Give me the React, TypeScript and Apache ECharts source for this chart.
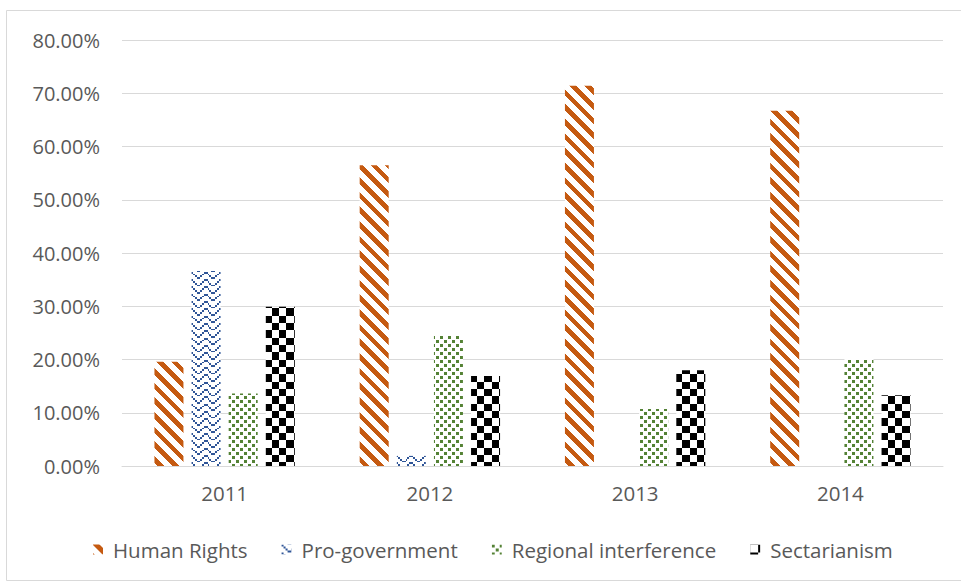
import React, { useEffect, useRef } from "react";
import * as echarts from "echarts";

const categories = ["2011", "2012", "2013", "2014"];
const seriesNames = ["Human Rights", "Pro-government", "Regional interference", "Sectarianism"];
const humanRights = [19.6, 56.5, 71.4, 66.7];
const proGovernment = [36.6, 1.9, 0, 0];
const regionalInterference = [13.6, 24.6, 10.7, 20.1];
const sectarianism = [29.9, 16.9, 18.0, 13.3];
const yTicks = { min: 0, max: 80, interval: 10 };

function hexToRgb(hex: string) {
  const h = hex.replace("#", "");
  return [parseInt(h.slice(0, 2), 16), parseInt(h.slice(2, 4), 16), parseInt(h.slice(4, 6), 16)];
}

function makeTile(size: number, color: string, fn: (x: number, y: number) => boolean) {
  const c = document.createElement("canvas");
  c.width = size;
  c.height = size;
  const ctx = c.getContext("2d")!;
  const img = ctx.createImageData(size, size);
  const [r, g, b] = hexToRgb(color);
  for (let y = 0; y < size; y++) {
    for (let x = 0; x < size; x++) {
      const i = (y * size + x) * 4;
      if (fn(x, y)) {
        img.data[i] = r; img.data[i + 1] = g; img.data[i + 2] = b; img.data[i + 3] = 255;
      } else {
        img.data[i] = 255; img.data[i + 1] = 255; img.data[i + 2] = 255; img.data[i + 3] = 255;
      }
    }
  }
  ctx.putImageData(img, 0, 0);
  return { image: c.toDataURL(), repeat: "repeat", imageWidth: size, imageHeight: size } as any;
}

// emulate an 8x8 Excel pattern scaled ~1.83x
function scaled(mask: (ox: number, oy: number) => boolean) {
  return (x: number, y: number) => {
    const ox = Math.floor((x * 24) / 44) % 8;
    const oy = Math.floor((y * 24) / 44) % 8;
    return mask(ox, oy);
  };
}

export default function App() {
  const ref = useRef<HTMLDivElement>(null);
  useEffect(() => {
    if (!ref.current) return;
    const chart = echarts.init(ref.current, null, { renderer: "svg" });

    const period = 44 / 3;
    const diag = makeTile(44, "#C55A11", (x, y) => {
      const d = (((x - y) % period) + period) % period;
      return d < 6.6;
    });
    const zig = makeTile(44, "#2F5597", scaled((x, y) => {
      const r = y % 4;
      return x === r || x === 7 - r;
    }));
    const dots = makeTile(8, "#548235", (x, y) => (x < 3 && y < 3) || (x >= 4 && x < 7 && y >= 4 && y < 7));
    const check = makeTile(44, "#000000", scaled((x, y) => ((x < 4) !== (y < 4))));

    const patterns = [diag, zig, dots, check];
    const values = [humanRights, proGovernment, regionalInterference, sectarianism];
    const font = "'Open Sans', 'Noto Sans', sans-serif";
    const textColor = "#595959";

    chart.setOption({
      animation: false,
      backgroundColor: "#ffffff",
      graphic: [
        {
          type: "rect",
          shape: { x: 6.5, y: 10.5, width: 1000, height: 570 },
          style: { fill: "none", stroke: "#D9D9D9", lineWidth: 1 },
          silent: true,
        },
      ],
      grid: { left: 122, right: 18, top: 40, bottom: 116 },
      legend: {
        left: 93,
        top: 539,
        padding: 0,
        itemWidth: 10,
        itemHeight: 10,
        itemGap: 34,
        icon: "rect",
        data: seriesNames,
        textStyle: { color: textColor, fontSize: 20.5, fontFamily: font, padding: [0, 0, 0, 5] },
      },
      xAxis: {
        type: "category",
        data: categories,
        axisTick: { show: false },
        axisLine: { lineStyle: { color: "#D9D9D9", width: 1 } },
        axisLabel: { color: textColor, fontSize: 20.5, fontFamily: font, margin: 16 },
      },
      yAxis: {
        type: "value",
        min: yTicks.min,
        max: yTicks.max,
        interval: yTicks.interval,
        axisLine: { show: false },
        axisTick: { show: false },
        splitLine: { lineStyle: { color: "#D9D9D9", width: 1 } },
        axisLabel: {
          color: textColor,
          fontSize: 20,
          fontFamily: font,
          margin: 22,
          formatter: (v: number) => v.toFixed(2) + "%",
        },
      },
      series: seriesNames.map((name, i) => ({
        name,
        type: "bar",
        data: values[i],
        barWidth: 29,
        barGap: "28%",
        itemStyle: { color: patterns[i] },
      })),
    });
    return () => chart.dispose();
  }, []);
  return (
    <div
      ref={ref}
      style={{ position: "fixed", left: 0, top: 0, width: 961, height: 582 }}
    />
  );
}
